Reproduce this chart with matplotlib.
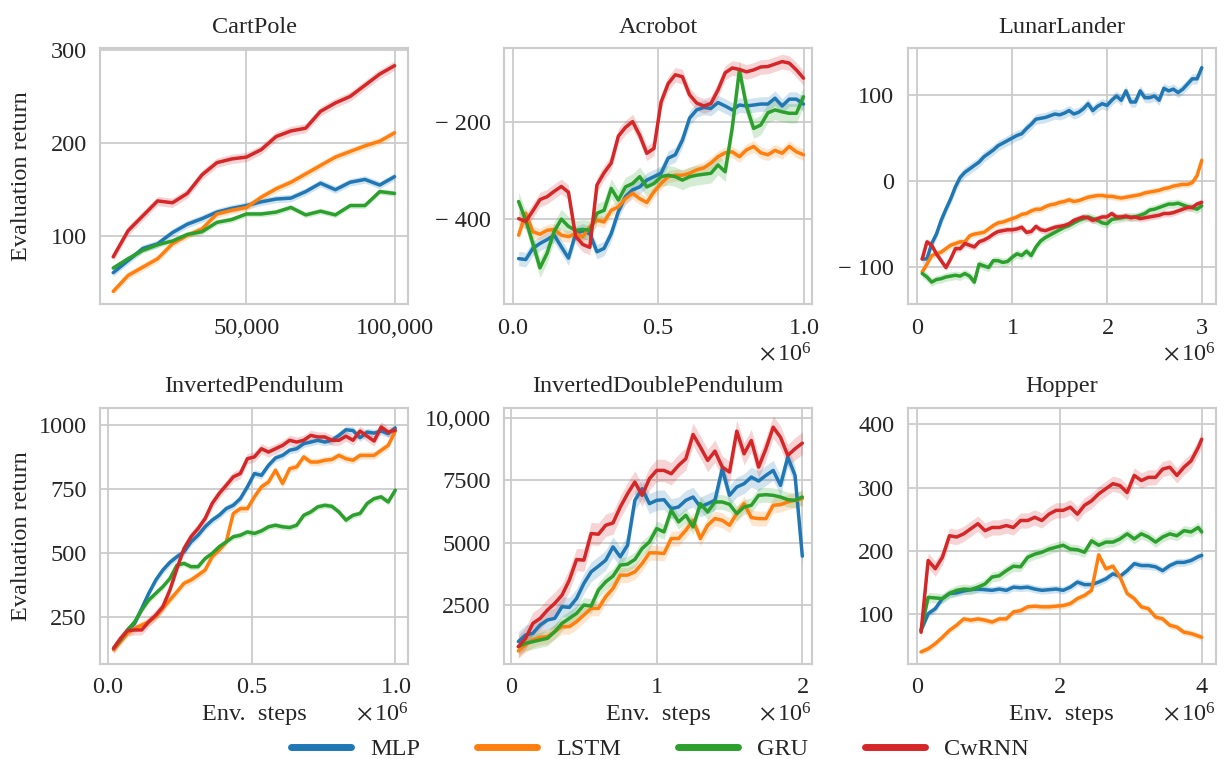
import numpy as np
import matplotlib
matplotlib.use("Agg")
import matplotlib.pyplot as plt
from matplotlib.ticker import ScalarFormatter
import seaborn as sns

sns.set_style("whitegrid")
plt.rcParams["font.family"] = ["Liberation Serif", "DejaVu Serif"]
plt.rcParams["mathtext.fontset"] = "stix"
plt.rcParams["axes.edgecolor"] = ".8"
plt.rcParams["axes.linewidth"] = 1.5
plt.rcParams["grid.color"] = ".8"
plt.rcParams["grid.linewidth"] = 1.3

FS = 17.5

methods = ["MLP", "LSTM", "GRU", "CwRNN"]
colors = ["#1f77b4", "#ff7f0e", "#2ca02c", "#d62728"]

# ---- CartPole (steps) ----
cp_x = np.arange(5000, 100001, 5000)
cp_mlp = [61, 74, 87, 92, 104, 113, 119, 126, 130, 133, 137, 140, 141, 148, 157, 150, 158, 161, 155, 164]
cp_lstm = [41, 58, 67, 76, 92, 101, 108, 124, 128, 131, 142, 151, 158, 167, 176, 185, 191, 197, 202, 211]
cp_gru = [66, 76, 85, 91, 95, 102, 105, 115, 118, 124, 124, 126, 131, 123, 127, 123, 133, 133, 148, 146]
cp_cw = [78, 106, 122, 138, 136, 146, 166, 179, 183, 185, 193, 207, 213, 216, 234, 243, 250, 262, 274, 283]
cp_band = [4, 4, 3, 5]

# ---- Acrobot (x 1e6) ----
ac_x = np.linspace(0.02e6, 1.0e6, 41)
ac_mlp = [-481, -483, -460, -450, -442, -433, -457, -480, -430, -424, -430, -467, -460, -430,
          -385, -354, -340, -334, -320, -313, -306, -275, -268, -238, -193, -176, -171, -173,
          -161, -168, -176, -166, -168, -166, -164, -164, -152, -168, -154, -154, -164]
ac_lstm = [-433, -388, -426, -431, -423, -421, -433, -436, -430, -436, -416, -402, -406, -382,
           -375, -358, -347, -358, -366, -344, -327, -313, -310, -310, -306, -299, -295, -285,
           -272, -264, -262, -272, -258, -251, -264, -268, -259, -265, -251, -262, -268]
ac_gru = [-364, -402, -450, -500, -470, -425, -400, -415, -423, -421, -423, -388, -382, -337,
          -361, -334, -327, -313, -334, -327, -313, -310, -313, -320, -313, -310, -308, -306,
          -289, -303, -212, -94, -169, -214, -207, -182, -176, -180, -183, -183, -149]
ac_cw = [-399, -405, -383, -360, -354, -343, -333, -345, -435, -452, -458, -330, -305, -285,
         -230, -212, -200, -228, -265, -255, -160, -122, -104, -108, -145, -162, -168, -163,
         -135, -100, -90, -93, -98, -94, -88, -87, -82, -77, -80, -94, -111]
ac_band = [15, 12, 20, 15]

# ---- LunarLander (x 1e6) ----
ll_x = np.linspace(0.05e6, 3.0e6, 60)
ll_mlp = [-91, -91, -73, -62, -46, -33, -21, -7, 4, 10, 14, 18, 22, 28, 32, 36, 41, 44, 47, 50,
          53, 55, 61, 66, 72, 73, 74, 76, 78, 77, 79, 82, 78, 80, 84, 90, 82, 87, 90, 88,
          94, 99, 94, 105, 92, 92, 105, 97, 97, 99, 94, 108, 105, 107, 103, 107, 113, 119, 119, 132]
ll_lstm = [-106, -97, -87, -85, -83, -79, -75, -73, -71, -71, -64, -62, -61, -60, -56, -52, -49, -48, -46, -44,
           -42, -39, -38, -35, -33, -33, -30, -28, -27, -25, -24, -22, -24, -23, -21, -19, -18, -17, -17, -18,
           -18, -19, -20, -19, -18, -17, -16, -14, -13, -12, -11, -9, -8, -6, -5, -4, -4, -2, 6, 24]
ll_gru = [-108, -112, -118, -115, -114, -112, -111, -110, -111, -108, -111, -118, -97, -99, -101, -93, -93, -95, -94, -89,
          -85, -87, -82, -87, -77, -70, -66, -63, -60, -57, -54, -52, -49, -46, -44, -42, -44, -46, -49, -50,
          -45, -44, -43, -42, -42, -42, -40, -38, -34, -33, -31, -29, -27, -27, -26, -28, -30, -31, -33, -29]
ll_cw = [-91, -71, -75, -85, -93, -101, -91, -79, -79, -73, -75, -77, -71, -69, -66, -62, -59, -58, -57, -57,
         -56, -54, -60, -59, -53, -57, -58, -56, -54, -53, -52, -50, -46, -44, -42, -43, -46, -44, -42, -42,
         -38, -42, -42, -41, -43, -42, -44, -43, -42, -41, -40, -38, -38, -37, -35, -33, -31, -31, -27, -25]
ll_band = [6, 4, 5, 4]

# ---- InvertedPendulum (x 1e6) ----
ip_x = np.linspace(0.02e6, 1.0e6, 41)
ip_mlp = [126, 161, 198, 224, 282, 341, 393, 432, 462, 484, 503, 542, 568, 601, 627, 646, 672, 685,
          711, 757, 809, 802, 841, 870, 880, 900, 906, 926, 932, 939, 932, 939, 958, 980, 977, 949,
          971, 967, 975, 965, 987]
ip_lstm = [120, 152, 185, 204, 217, 230, 250, 282, 315, 347, 380, 393, 412, 432, 484, 510, 542, 653,
           672, 672, 718, 757, 776, 822, 770, 828, 835, 874, 854, 854, 861, 864, 880, 867, 861, 880,
           880, 880, 900, 919, 975]
ip_gru = [126, 159, 198, 230, 276, 315, 341, 367, 399, 451, 458, 445, 445, 477, 497, 523, 542, 562,
          568, 581, 575, 585, 601, 607, 601, 598, 607, 646, 659, 679, 685, 681, 659, 627, 646, 653,
          692, 711, 718, 698, 744]
ip_cw = [126, 165, 195, 198, 198, 230, 256, 289, 354, 438, 516, 562, 594, 633, 692, 731, 763, 796,
         809, 867, 874, 906, 893, 906, 919, 939, 932, 939, 958, 952, 952, 939, 939, 955, 939, 975,
         955, 936, 991, 971, 978]
ip_band = [15, 15, 12, 20]

# ---- InvertedDoublePendulum (x 1e6) ----
idp_x = np.linspace(0.05e6, 2.0e6, 40)
idp_mlp = [1016, 1283, 1350, 1684, 1884, 1951, 2419, 2392, 2754, 3355, 3823, 4050, 4291, 4826, 4425,
           4893, 6698, 7166, 6564, 6698, 6724, 6363, 6430, 6698, 6831, 6430, 6564, 6698, 7968, 6898,
           7233, 7366, 7634, 7473, 7700, 7901, 7299, 8436, 7700, 4452]
idp_lstm = [641, 882, 1082, 1189, 1216, 1417, 1617, 1617, 1818, 2085, 2352, 2352, 2820, 3155, 3689,
            3689, 3823, 4157, 4585, 4585, 4559, 5160, 5160, 5494, 5896, 5160, 5695, 5962, 5896, 5695,
            6163, 6564, 6003, 5962, 5962, 6497, 6524, 6631, 6698, 6764]
idp_gru = [815, 949, 1016, 1082, 1149, 1417, 1751, 1951, 2152, 2486, 2446, 3088, 3422, 3650, 4091,
           4130, 4318, 4759, 5026, 5561, 5427, 6296, 5829, 6096, 5628, 6564, 6229, 6631, 6631, 6537,
           6163, 6430, 6497, 6898, 6925, 6898, 6831, 6724, 6698, 6831]
idp_cw = [815, 1149, 1751, 1951, 2286, 2553, 2887, 3489, 4318, 4291, 5361, 5334, 5695, 5788, 6430,
          6965, 7433, 6898, 7567, 7901, 7901, 7767, 8101, 8369, 9345, 8837, 8302, 8676, 8035, 7834,
          9479, 8569, 9104, 8035, 8770, 9639, 9238, 8503, 8770, 8997]
idp_band = [400, 300, 300, 450]

# ---- Hopper (x 1e6) ----
hp_x = np.append(np.arange(0.05e6, 4.0e6, 0.1e6), 4.0e6)
hp_mlp = [75, 101, 109, 125, 133, 134, 137, 139, 140, 139, 138, 140, 138, 143, 142, 143, 140, 138,
          139, 140, 138, 143, 151, 147, 147, 151, 156, 164, 160, 169, 180, 177, 177, 175, 169, 177,
          182, 182, 185, 191, 193]
hp_lstm = [41, 46, 54, 64, 75, 83, 93, 91, 93, 91, 88, 93, 93, 104, 106, 112, 113, 112, 112, 113,
           114, 117, 125, 130, 138, 194, 172, 176, 159, 133, 125, 112, 109, 96, 93, 83, 80, 72, 70,
           66, 64]
hp_gru = [75, 127, 126, 125, 133, 138, 140, 139, 143, 148, 159, 161, 169, 176, 175, 190, 195, 198,
          203, 206, 209, 203, 202, 198, 216, 209, 214, 214, 219, 227, 219, 227, 222, 214, 222, 227,
          224, 232, 230, 237, 230]
hp_cw = [72, 185, 172, 190, 224, 222, 227, 235, 243, 232, 237, 237, 240, 237, 248, 248, 253, 248,
         258, 264, 264, 269, 258, 272, 279, 290, 298, 306, 303, 292, 319, 311, 316, 316, 329, 332,
         319, 332, 342, 363, 376]
hp_band = [6, 5, 8, 12]

panels = [
    ("CartPole", cp_x, [cp_mlp, cp_lstm, cp_gru, cp_cw], cp_band,
     (550, 104700), (27, 302), [50000, 100000], ["50,000", "100,000"],
     [100, 200, 300], ["100", "200", "300"]),
    ("Acrobot", ac_x, [ac_mlp, ac_lstm, ac_gru, ac_cw], ac_band,
     (-0.031e6, 1.03e6), (-575, -49), [0, 0.5e6, 1.0e6], None,
     [-400, -200], ["\u2212 400", "\u2212 200"]),
    ("LunarLander", ll_x, [ll_mlp, ll_lstm, ll_gru, ll_cw], ll_band,
     (-0.105e6, 3.15e6), (-144, 155), [0, 1e6, 2e6, 3e6], None,
     [-100, 0, 100], ["\u2212 100", "0", "100"]),
    ("InvertedPendulum", ip_x, [ip_mlp, ip_lstm, ip_gru, ip_cw], ip_band,
     (-0.027e6, 1.046e6), (65, 1067), [0, 0.5e6, 1.0e6], None,
     [250, 500, 750, 1000], ["250", "500", "750", "1000"]),
    ("InvertedDoublePendulum", idp_x, [idp_mlp, idp_lstm, idp_gru, idp_cw], idp_band,
     (-0.05e6, 2.068e6), (116, 10430), [0, 1e6, 2e6], None,
     [2500, 5000, 7500, 10000], ["2500", "5000", "7500", "10,000"]),
    ("Hopper", hp_x, [hp_mlp, hp_lstm, hp_gru, hp_cw], hp_band,
     (-0.14e6, 4.2e6), (22, 426), [0, 2e6, 4e6], None,
     [100, 200, 300, 400], ["100", "200", "300", "400"]),
]


class SpacedSci(ScalarFormatter):
    # "× 10^6" with a little gap after the times sign
    def get_offset(self):
        s = super().get_offset()
        return s.replace(r"\times", r"\times\,")


fig, axes = plt.subplots(2, 3, figsize=(12.29, 7.59), dpi=100)
fig.subplots_adjust(left=0.0814, right=0.9894, top=0.9368, bottom=0.1252,
                    wspace=0.309, hspace=0.402)

for ax, (name, x, series, bands, xlim, ylim, xt, xtl, yt, ytl) in zip(axes.flat, panels):
    for y, w, c, lab in zip(series, bands, colors, methods):
        y = np.asarray(y, dtype=float)
        ax.fill_between(x, y - w, y + w, color=c, alpha=0.2, lw=0)
        ax.plot(x, y, color=c, lw=2.5, label=lab)
    ax.set_title(name, fontsize=FS, pad=11)
    ax.set_xlim(*xlim)
    ax.set_ylim(*ylim)
    if xtl is None:
        fmt = SpacedSci(useMathText=True)
        fmt.set_powerlimits((6, 6))
        ax.xaxis.set_major_formatter(fmt)
        ax.set_xticks(xt)
    else:
        ax.set_xticks(xt, xtl)
    ax.set_yticks(yt, ytl)
    ax.tick_params(labelsize=FS, pad=6)
    ax.xaxis.get_offset_text().set_fontsize(FS)

for ax in axes[:, 0]:
    ax.set_ylabel("Evaluation return", fontsize=FS, labelpad=5)
for ax in axes[1, :]:
    ax.set_xlabel("Env.  steps", fontsize=FS)
fig.align_ylabels(axes[:, 0])

handles, labels = axes[0, 0].get_legend_handles_labels()
leg = fig.legend(handles, labels, loc="center", bbox_to_anchor=(0.537, 0.013), ncol=4,
                 frameon=False, fontsize=FS, handlelength=2.45, handletextpad=0.8,
                 columnspacing=2.35)
for line in leg.get_lines():
    line.set_linewidth(5)

fig.savefig("out.png", dpi=100)
